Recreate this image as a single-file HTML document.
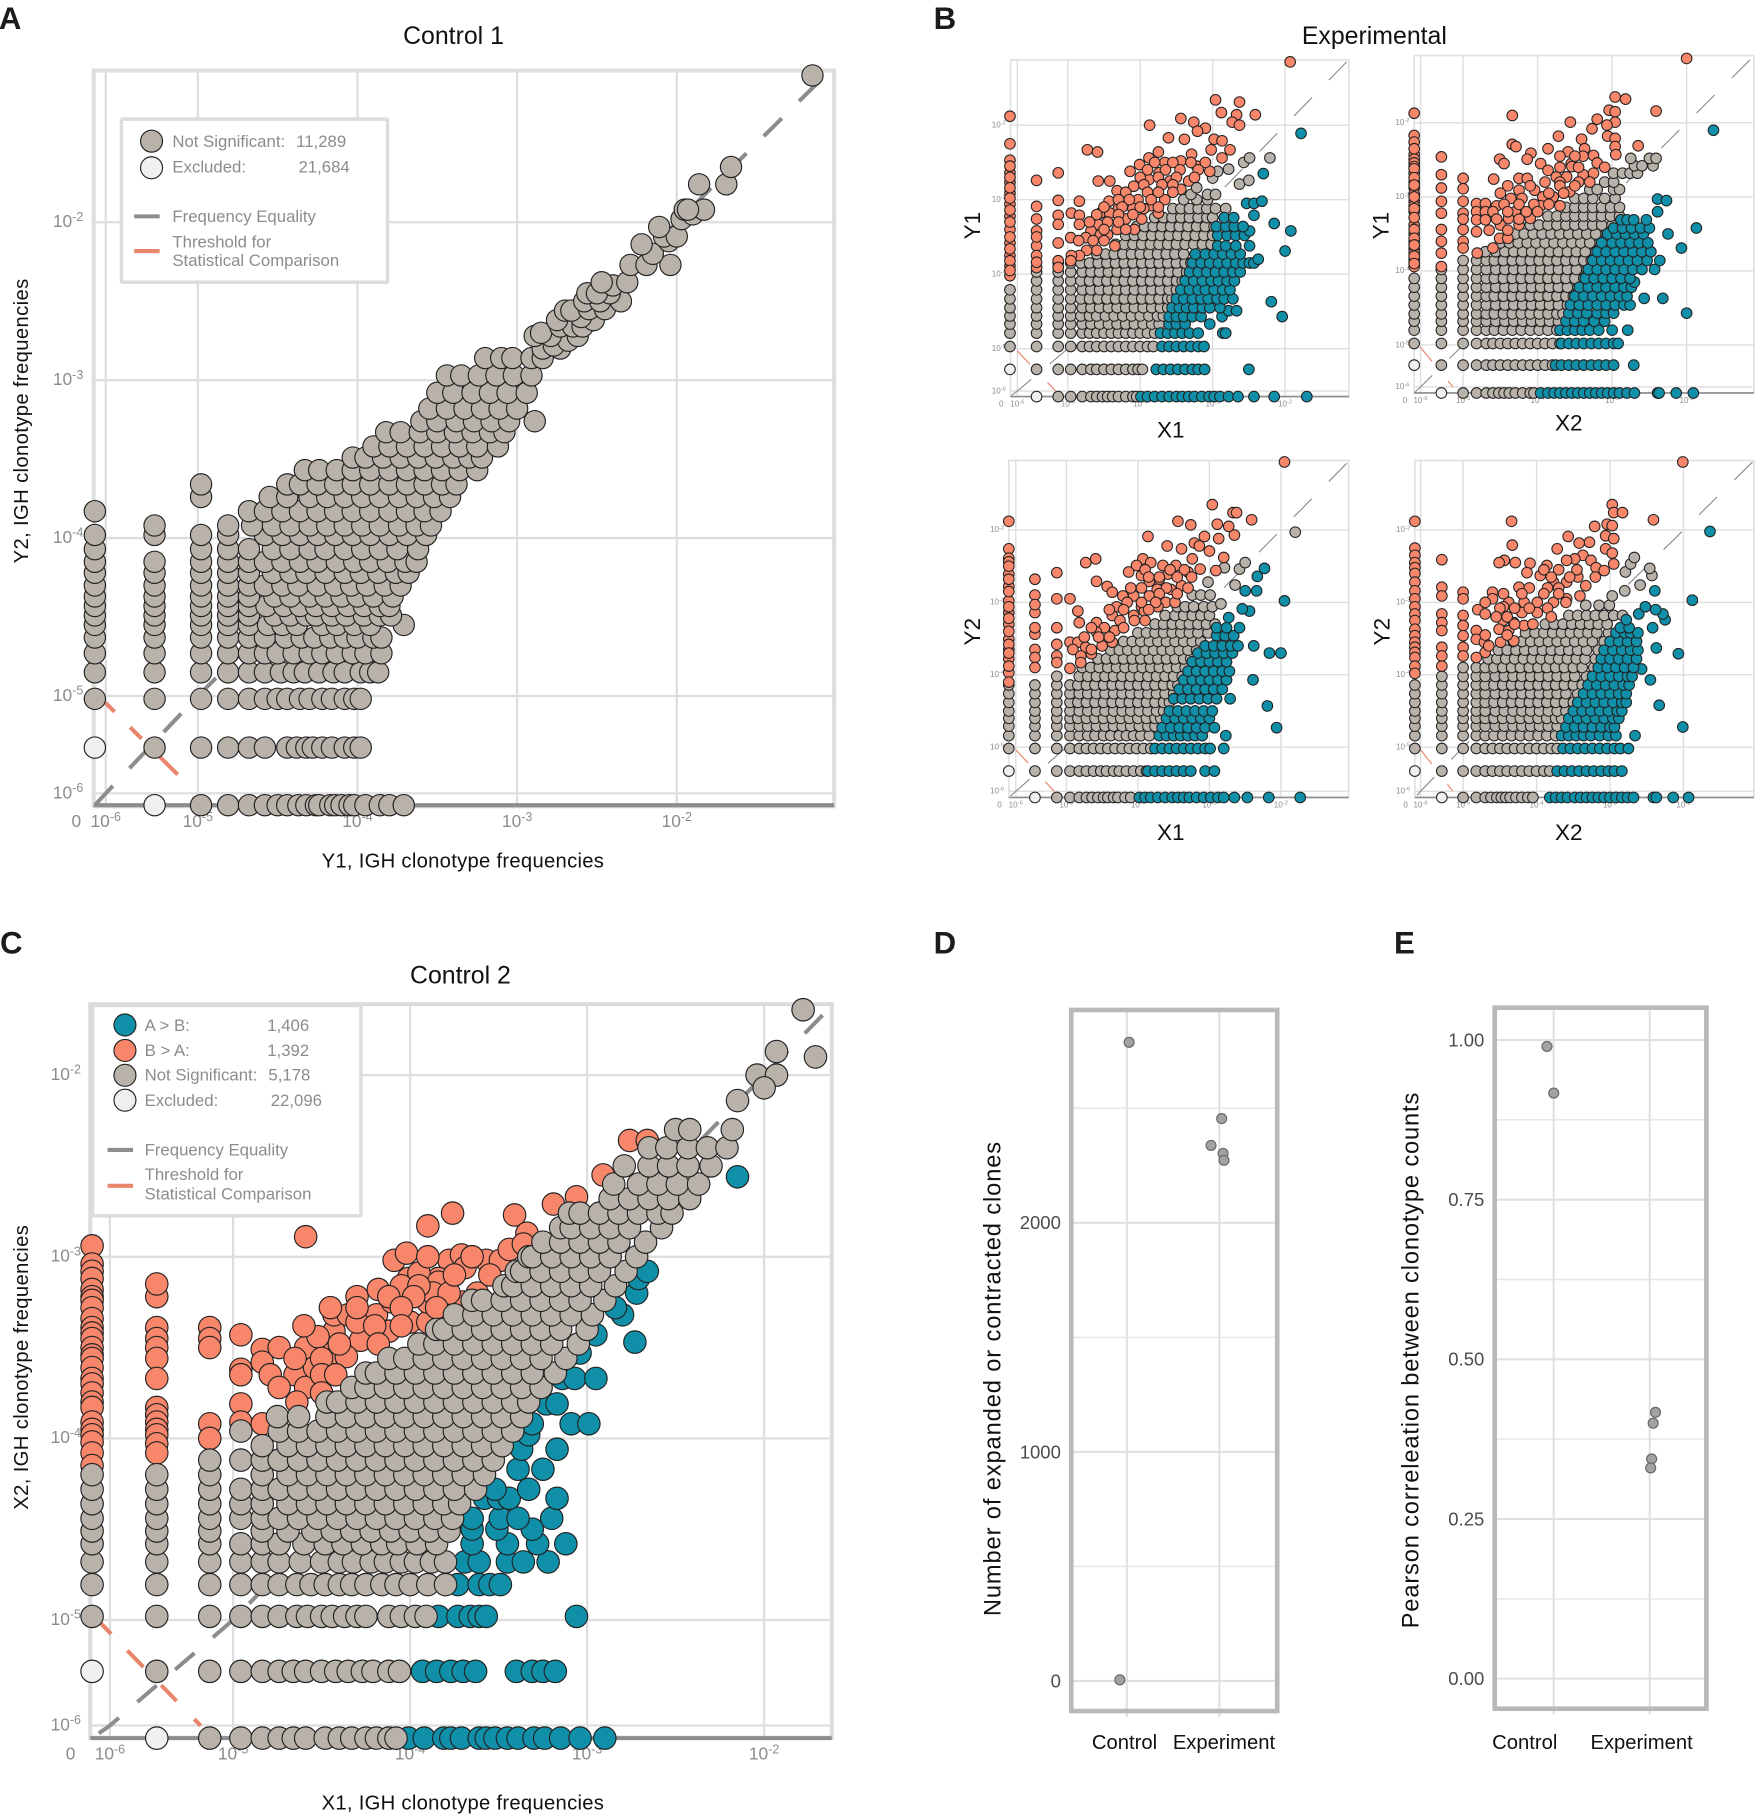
<!DOCTYPE html>
<html lang="en"><head><meta charset="utf-8"><title>Clonotype frequency comparison</title>
<style>html,body{margin:0;padding:0;background:#fff}svg{display:block}text{font-family:"Liberation Sans",sans-serif}</style></head>
<body>
<svg id="fig" xmlns="http://www.w3.org/2000/svg" width="1755" height="1814" viewBox="0 0 1517 1568">
<rect width="1517" height="1568" fill="#fff"/>
<g font-weight="bold" font-size="27" fill="#1c1c1c">
<text x="-1" y="25">A</text>
<text x="807" y="25">B</text>
<text x="0" y="824">C</text>
<text x="807" y="824">D</text>
<text x="1205" y="824">E</text>
</g>
<g font-size="21.5" fill="#111" text-anchor="middle">
<text x="392" y="38">Control 1</text>
<text x="1188" y="38">Experimental</text>
<text x="398" y="850">Control 2</text>
</g>
<g font-size="17.5" fill="#111" text-anchor="middle">
<text x="400" y="750" textLength="244">Y1, IGH clonotype frequencies</text>
<text transform="translate(24,364) rotate(-90)" textLength="246">Y2, IGH clonotype frequencies</text>
<text x="400" y="1564" textLength="244">X1, IGH clonotype frequencies</text>
<text transform="translate(24,1182) rotate(-90)" textLength="246">X2, IGH clonotype frequencies</text>
</g>
<g font-size="19.5" fill="#111" text-anchor="middle">
<text x="1012" y="378">X1</text>
<text x="1356" y="372">X2</text>
<text x="1012" y="726">X1</text>
<text x="1356" y="726">X2</text>
<text transform="translate(847,195) rotate(-90)">Y1</text>
<text transform="translate(1200,195) rotate(-90)">Y1</text>
<text transform="translate(847,546) rotate(-90)">Y2</text>
<text transform="translate(1201,546) rotate(-90)">Y2</text>
</g>
<g id="plots"></g>

<g font-size="14.5" fill="#8c8c8c">
<rect x="105" y="103" width="230" height="141" fill="#fff" stroke="#dcdcdc" stroke-width="3" rx="1"/>
<circle cx="131" cy="122" r="9.5" fill="#b8b2aa" stroke="#222"/>
<circle cx="131" cy="145" r="9.5" fill="#f0f0ee" stroke="#222"/>
<text x="149" y="127">Not Significant:</text><text x="256" y="127">11,289</text>
<text x="149" y="149">Excluded:</text><text x="258" y="149">21,684</text>
<line x1="116" x2="138" y1="187" y2="187" stroke="#8d8d90" stroke-width="3.5"/>
<text x="149" y="192">Frequency Equality</text>
<line x1="116" x2="138" y1="217" y2="217" stroke="#e8856c" stroke-width="3.5"/>
<text x="149" y="214">Threshold for</text>
<text x="149" y="230">Statistical Comparison</text>
</g>
<g font-size="14.5" fill="#8c8c8c">
<rect x="80" y="869" width="232" height="182" fill="#fff" stroke="#dcdcdc" stroke-width="3" rx="1"/>
<circle cx="108" cy="886" r="9.5" fill="#0f8fa8" stroke="#222"/>
<circle cx="108" cy="908" r="9.5" fill="#f8866b" stroke="#222"/>
<circle cx="108" cy="929.5" r="9.5" fill="#b8b2aa" stroke="#222"/>
<circle cx="108" cy="951" r="9.5" fill="#f0f0ee" stroke="#222"/>
<text x="125" y="891">A &gt; B:</text><text x="231" y="891">1,406</text>
<text x="125" y="913">B &gt; A:</text><text x="231" y="913">1,392</text>
<text x="125" y="934">Not Significant:</text><text x="232" y="934">5,178</text>
<text x="125" y="956">Excluded:</text><text x="234" y="956">22,096</text>
<line x1="93" x2="115" y1="994" y2="994" stroke="#8d8d90" stroke-width="3.5"/>
<text x="125" y="999">Frequency Equality</text>
<line x1="93" x2="115" y1="1025" y2="1025" stroke="#e8856c" stroke-width="3.5"/>
<text x="125" y="1020">Threshold for</text>
<text x="125" y="1037">Statistical Comparison</text>
</g>
</svg>
<script>
// Scatter data are log10 frequencies. -7 stands for a frequency of exactly 0.
// Each row is [y, x, x, x, ...]: one y value followed by the x values at that y.
const logTicks=[-6,-5,-4,-3,-2];

const aNotSig=[
[-7,-4.98,-4.81,-4.68,-4.58,-4.5,-4.44,-4.37,-4.32,-4.26,-4.24,-4.17,-4.14,-4.1,-4.05,-4.02,-3.95,-3.86,-3.8,-3.71],
[-5.53,-5.47,-4.98,-4.81,-4.68,-4.58,-4.44,-4.38,-4.32,-4.28,-4.22,-4.16,-4.08,-4.02,-3.98],
[-5.03,-7,-5.47,-4.98,-4.81,-4.68,-4.58,-4.5,-4.44,-4.36,-4.3,-4.22,-4.16,-4.08,-4.02,-3.98],
[-4.85,-7,-5.47,-4.98,-4.81,-4.68,-4.58,-4.48,-4.4,-4.33,-4.24,-4.15,-4.08,-3.98,-3.92,-3.87],
[-4.73,-7,-5.47,-4.98,-4.81,-4.68,-4.58,-4.5,-4.4,-4.3,-4.22,-4.13,-4.03,-3.95,-3.85],
[-4.63,-7,-5.47,-4.98,-4.81,-4.68,-4.58,-4.45,-4.35,-4.27,-4.17,-4.08,-4,-3.9,-3.85],
[-4.55,-7,-5.47,-4.98,-4.81,-4.68,-4.56,-4.47,-4.38,-4.22,-4.13,-4.02,-3.92,-3.71],
[-4.49,-7,-5.47,-4.98,-4.81,-4.68,-4.52,-4.42,-4.32,-4.26,-4.16,-4.07,-3.96,-3.86,-3.79],
[-4.43,-7,-5.47,-4.98,-4.81,-4.68,-4.57,-4.46,-4.36,-4.26,-4.16,-4.06,-3.96,-3.86,-3.8],
[-4.37,-7,-5.47,-4.98,-4.81,-4.68,-4.52,-4.42,-4.3,-4.2,-4.1,-4,-3.9,-3.78],
[-4.3,-7,-5.47,-4.98,-4.81,-4.68,-4.58,-4.47,-4.37,-4.25,-4.14,-4.04,-3.94,-3.83,-3.73],
[-4.22,-7,-5.47,-4.98,-4.81,-4.68,-4.53,-4.42,-4.32,-4.2,-4.08,-3.98,-3.87,-3.76,-3.68],
[-4.15,-7,-5.47,-4.98,-4.81,-4.68,-4.58,-4.47,-4.36,-4.25,-4.13,-4.02,-3.92,-3.81,-3.7,-3.63],
[-4.07,-7,-4.98,-4.81,-4.68,-4.53,-4.42,-4.3,-4.2,-4.08,-3.97,-3.86,-3.75,-3.62],
[-3.98,-7,-5.47,-4.98,-4.81,-4.58,-4.47,-4.36,-4.25,-4.14,-4.03,-3.92,-3.8,-3.69,-3.57],
[-3.92,-5.47,-4.81,-4.66,-4.53,-4.42,-4.3,-4.19,-4.08,-3.97,-3.86,-3.74,-3.63,-3.54],
[-3.83,-7,-4.68,-4.58,-4.47,-4.36,-4.25,-4.14,-4.03,-3.92,-3.8,-3.69,-3.58,-3.48],
[-3.74,-4.98,-4.55,-4.44,-4.3,-4.19,-4.08,-3.97,-3.86,-3.74,-3.63,-3.52,-3.42],
[-3.66,-4.98,-4.44,-4.36,-4.25,-4.14,-4.03,-3.92,-3.8,-3.69,-3.58,-3.47,-3.38],
[-3.57,-4.33,-4.24,-4.13,-4.03,-3.92,-3.8,-3.69,-3.58,-3.47,-3.36,-3.25],
[-3.49,-4.03,-3.95,-3.84,-3.73,-3.62,-3.51,-3.4,-3.3,-3.22],
[-3.42,-3.9,-3.8,-3.69,-3.58,-3.47,-3.36,-3.25,-3.12],
[-3.33,-3.82,-3.73,-3.61,-3.5,-3.39,-3.28,-3.17,-3.08],
[-3.26,-3.6,-3.5,-3.38,-3.27,-3.16,-3.05,-2.89],
[-3.18,-3.55,-3.44,-3.33,-3.22,-3.11,-3],
[-3.08,-3.5,-3.4,-3.28,-3.17,-3.06,-2.94],
[-2.97,-3.44,-3.35,-3.24,-3.13,-3.02,-2.91],
[-2.86,-3.2,-3.1,-3.03,-2.91,-2.84],
[-2.8,-2.84,-2.73],[-2.78,-2.77],[-2.75,-2.68],[-2.72,-2.89,-2.79,-2.62],[-2.7,-2.85],[-2.66,-2.73,-2.65,-2.59],[-2.62,-2.75,-2.52],[-2.6,-2.6],[-2.56,-2.7,-2.66],[-2.55,-2.55,-2.45],
[-2.5,-2.58,-2.48,-2.35],[-2.45,-2.56,-2.42,-2.5],[-2.4,-2.4],[-2.38,-2.47,-2.31],[-2.27,-2.29,-2.19,-2.04],[-2.2,-2.15],
[-2.14,-2.22],[-2.12,-2.05],[-2.09,-2.08,-2],[-2.03,-2.11],[-1.98,-1.97],[-1.95,-1.9],[-1.92,-1.95,-1.83,-1.93],[-1.76,-1.86,-1.69],[-1.65,-1.66],[-1.07,-1.15]];
const aExcluded=[[-7,-5.47],[-5.53,-7]];

const cAgtB=[
[-7,-4.01,-3.92,-3.81,-3.77,-3.71,-3.61,-3.57,-3.52,-3.45,-3.39,-3.3,-3.24,-3.15,-3.04,-2.9],
[-5.487,-3.93,-3.85,-3.77,-3.7,-3.63,-3.4,-3.31,-3.25,-3.18],
[-4.98,-3.84,-3.73,-3.66,-3.61,-3.57,-3.06],
[-4.805,-3.73,-3.61,-3.55,-3.49],
[-4.68,-3.69,-3.61,-3.45,-3.36,-3.22],
[-4.58,-3.65,-3.45,-3.28,-3.12],
[-4.5,-3.65,-3.51,-3.31],[-4.44,-3.65,-3.49,-3.39,-3.2],
[-4.33,-3.58,-3.5,-3.44,-3.17],[-4.28,-3.52,-3.33],[-4.17,-3.39,-3.25],[-4.06,-3.37,-3.17],
[-3.98,-3.33],[-3.92,-3.09,-2.99,-3.31],[-3.81,-3.23,-3.17],[-3.67,-3.14,-3.07,-2.95],
[-3.53,-3.04],[-3.47,-2.73],[-3.43,-2.95],[-3.32,-2.8],[-3.28,-2.84],[-3.2,-2.72],[-3.12,-2.71],[-3.08,-2.66],[-2.56,-2.15]];
const cBgtA=[
[-2.94,-7],[-3.04,-7],[-3.08,-7],[-3.12,-7],[-3.18,-7],[-3.22,-7,-5.62],[-3.24,-7],[-3.28,-7],[-3.34,-7],[-3.39,-7,-5.62,-5.19],[-3.42,-7],[-3.45,-7,-5.19,-5.62],[-3.5,-5.62,-7,-5.19],[-3.54,-7],[-3.56,-7,-5.62],[-3.61,-7],[-3.67,-7,-5.62],[-3.7,-7],[-3.75,-7],[-3.8,-7],[-3.83,-7,-5.62],[-3.87,-5.62],[-3.91,-7,-5.62],[-3.95,-7,-5.62],[-3.98,-7,-5.62],[-4.02,-7],[-4.03,-5.62],[-4.08,-7,-5.62],[-4.15,-7],
[-3.15,-5.62],[-3.92,-5.19],[-4,-5.19],[-3.43,-4.956],[-3.62,-4.956],[-3.65,-4.956],[-3.81,-4.956],[-3.91,-4.956],[-3.51,-4.835],[-3.58,-4.835],[-3.92,-4.835],
[-3.5,-4.74,-4.59],[-3.65,-4.79,-4.65],[-3.72,-4.74,-4.59],[-3.61,-4.54],[-3.46,-4.49,-4.28],[-3.41,-4.43,-4.12],[-3.32,-4.43,-4.35,-4.19],[-3.18,-4.18],[-3.02,-4.09,-3.78,-3.57,-3.49],[-2.98,-4.02],[-3.12,-4.01,-3.84],[-3.09,-3.95],[-3.36,-4,-3.9,-4.3],[-3.14,-3.84],[-2.99,-3.71],[-3.06,-3.69],[-2.96,-3.44],[-2.77,-3.41],[-2.87,-3.34],[-2.93,-3.36],[-2.83,-3.9],[-2.76,-3.76],[-2.71,-3.19],[-2.67,-3.06],[-2.55,-2.91],[-2.36,-2.76,-2.66],[-2.89,-4.59],[-3.55,-4.41,-4.36],[-3.25,-4.1,-3.9,-3.7],[-3.2,-3.87,-3.78,-3.62],[-3.44,-4.52],[-3.8,-4.64],
[-3,-3.9,-3.65],[-3.1,-3.75,-3.55],[-3.16,-4.05,-3.95],[-3.22,-4.3,-4.12,-3.98],[-3.28,-4.45,-4.3,-4.05,-3.85],[-3.38,-4.6,-4.2,-4.05],[-3.48,-4.4,-4.18],[-3.56,-4.65,-4.5],[-3.65,-4.5,-4.42],[-3.75,-4.5]];
const cNotSig=[
[-7,-5.19,-4.956,-4.835,-4.74,-4.66,-4.59,-4.48,-4.4,-4.33,-4.25,-4.19,-4.12,-4.08],
[-5.487,-5.62,-5.19,-4.956,-4.835,-4.74,-4.66,-4.59,-4.5,-4.42,-4.35,-4.27,-4.21,-4.12,-4.06],
[-4.98,-7,-5.62,-5.19,-4.956,-4.835,-4.74,-4.64,-4.58,-4.5,-4.44,-4.37,-4.3,-4.25,-4.12,-4.05,-3.97,-3.91],
[-4.805,-7,-5.62,-5.19,-4.956,-4.835,-4.74,-4.64,-4.56,-4.48,-4.4,-4.33,-4.25,-4.16,-4.08,-4,-3.9,-3.8],
[-4.68,-7,-5.62,-5.19,-4.956,-4.835,-4.74,-4.62,-4.5,-4.4,-4.32,-4.22,-4.14,-4.05,-3.97,-3.88,-3.8],
[-4.58,-7,-5.62,-5.19,-4.956,-4.835,-4.74,-4.6,-4.48,-4.38,-4.27,-4.16,-4.07,-3.96,-3.85],
[-4.51,-7,-5.62,-5.19,-4.835,-4.69,-4.55,-4.44,-4.33,-4.22,-4.11,-4,-3.89,-3.78],
[-4.44,-7,-5.62,-5.19,-4.956,-4.835,-4.74,-4.63,-4.52,-4.41,-4.3,-4.19,-4.08,-3.97,-3.86,-3.76],
[-4.36,-7,-5.62,-5.19,-4.956,-4.835,-4.69,-4.58,-4.47,-4.36,-4.25,-4.14,-4.03,-3.92,-3.81,-3.72],
[-4.28,-7,-5.62,-5.19,-4.956,-4.835,-4.74,-4.63,-4.52,-4.41,-4.3,-4.19,-4.08,-3.97,-3.86,-3.75,-3.63],
[-4.2,-7,-5.62,-5.19,-4.835,-4.69,-4.58,-4.47,-4.36,-4.25,-4.14,-4.03,-3.92,-3.81,-3.7,-3.58],
[-4.12,-5.19,-4.956,-4.835,-4.74,-4.63,-4.52,-4.41,-4.3,-4.19,-4.08,-3.97,-3.86,-3.75,-3.64,-3.53],
[-4.04,-4.835,-4.69,-4.58,-4.47,-4.36,-4.25,-4.14,-4.03,-3.92,-3.81,-3.7,-3.59,-3.48],
[-3.96,-4.956,-4.74,-4.63,-4.52,-4.41,-4.3,-4.19,-4.08,-3.97,-3.86,-3.75,-3.64,-3.53,-3.42],
[-3.88,-4.75,-4.63,-4.47,-4.36,-4.25,-4.14,-4.03,-3.92,-3.81,-3.7,-3.59,-3.48,-3.37],
[-3.8,-4.47,-4.41,-4.3,-4.19,-4.08,-3.97,-3.86,-3.75,-3.64,-3.53,-3.42,-3.33],
[-3.72,-4.33,-4.25,-4.14,-4.03,-3.92,-3.81,-3.7,-3.59,-3.48,-3.37,-3.26],
[-3.64,-4.25,-4.19,-4.08,-3.97,-3.86,-3.75,-3.64,-3.53,-3.42,-3.31,-3.18],
[-3.56,-4.12,-4.03,-3.92,-3.81,-3.7,-3.59,-3.48,-3.37,-3.26,-3.12],
[-3.48,-3.95,-3.86,-3.75,-3.64,-3.53,-3.42,-3.31,-3.2,-3.05],
[-3.4,-3.85,-3.81,-3.7,-3.59,-3.48,-3.37,-3.26,-3.15,-3],
[-3.32,-3.75,-3.64,-3.53,-3.42,-3.31,-3.2,-3.09,-2.97],
[-3.24,-3.65,-3.59,-3.48,-3.37,-3.26,-3.15,-3.04,-2.9],
[-3.16,-3.47,-3.42,-3.31,-3.2,-3.09,-2.98,-2.84],
[-3.08,-3.4,-3.37,-3.26,-3.15,-3.04,-2.93,-2.78],
[-3,-3.33,-3.31,-3.2,-3.09,-2.98,-2.87,-2.72],
[-2.92,-3.25,-3.15,-3.04,-2.93,-2.82,-2.67],
[-2.84,-3.15,-3.09,-2.98,-2.87,-2.76,-2.58],
[-2.76,-3.1,-3.04,-2.93,-2.82,-2.71,-2.6,-2.52],
[-2.68,-2.87,-2.76,-2.65,-2.54,-2.42],
[-2.6,-2.85,-2.71,-2.6,-2.49,-2.37],
[-2.5,-2.79,-2.65,-2.54,-2.43,-2.3],
[-2.4,-2.65,-2.55,-2.43,-2.32,-2.21],
[-2.3,-2.5,-2.42,-2.18],[-2.14,-2.15],[-2,-2.04,-1.93],[-2.07,-2],[-1.87,-1.93],[-1.9,-1.71],[-1.64,-1.78]];
const cExcluded=[[-7,-5.62],[-5.487,-7]];

const b1Gray=[
[-7,-5.19,-4.96,-4.8,-4.68,-4.6,-4.52,-4.45,-4.38,-4.3,-4.2,-4.1,-4.05],
[-5.49,-5.62,-5.19,-4.96,-4.8,-4.68,-4.6,-4.5,-4.4,-4.3,-4.2,-4.1,-4.03,-3.97],
[-4.97,-7,-5.62,-5.19,-4.96,-4.8,-4.7,-4.6,-4.5,-4.4,-4.3,-4.2,-4.1,-4,-3.9,-3.82],
[-4.79,-7,-5.62,-5.19,-4.96,-4.8,-4.7,-4.6,-4.5,-4.4,-4.3,-4.2,-4.1,-4,-3.9,-3.8],
[-4.67,-7,-5.62,-5.19,-4.96,-4.8,-4.68,-4.56,-4.44,-4.32,-4.2,-4.08,-3.96,-3.84,-3.74],
[-4.56,-7,-5.62,-5.19,-4.96,-4.82,-4.7,-4.6,-4.48,-4.36,-4.24,-4.12,-4,-3.88,-3.76,-3.68],
[-4.45,-7,-5.62,-5.19,-4.96,-4.8,-4.68,-4.56,-4.44,-4.32,-4.2,-4.08,-3.96,-3.84,-3.72,-3.62],
[-4.33,-7,-5.62,-5.19,-4.96,-4.82,-4.7,-4.58,-4.46,-4.34,-4.22,-4.1,-3.98,-3.86,-3.74,-3.62,-3.56],
[-4.21,-7,-5.62,-5.19,-4.96,-4.8,-4.68,-4.56,-4.44,-4.32,-4.2,-4.08,-3.96,-3.84,-3.72,-3.6,-3.5],
[-4.09,-5.62,-5.19,-4.96,-4.82,-4.7,-4.58,-4.46,-4.34,-4.22,-4.1,-3.98,-3.86,-3.74,-3.62,-3.5,-3.42],
[-3.97,-5.62,-5.19,-4.96,-4.8,-4.68,-4.56,-4.44,-4.32,-4.2,-4.08,-3.96,-3.84,-3.72,-3.6,-3.48,-3.36],
[-3.85,-5.19,-4.96,-4.82,-4.7,-4.58,-4.46,-4.34,-4.22,-4.1,-3.98,-3.86,-3.74,-3.62,-3.5,-3.38,-3.3],
[-3.73,-4.6,-4.48,-4.36,-4.24,-4.12,-4,-3.88,-3.76,-3.64,-3.52,-3.4,-3.24],
[-3.6,-4.34,-4.22,-4.1,-3.98,-3.86,-3.74,-3.62,-3.5,-3.38,-3.26,-3.14,-3.02],
[-3.48,-4.2,-4.08,-3.96,-3.84,-3.72,-3.6,-3.48,-3.36,-3.24,-3.12,-3],
[-3.36,-4.05,-3.94,-3.82,-3.7,-3.58,-3.46,-3.34,-3.22,-3.1,-2.98],
[-3.24,-3.8,-3.68,-3.56,-3.44,-3.32,-3.2,-3.08,-3],
[-3.12,-3.55,-3.44,-3.32,-3.2,-3.08,-2.96,-2.82],[-3,-3.4,-3.22,-3.07],[-2.93,-3.3,-3.07,-2.96],[-2.84,-3.22],[-2.79,-2.63],[-2.74,-2.5],[-2.71,-3],[-2.62,-2.93],[-2.59,-2.78],[-2.5,-2.57],[-2.44,-2.49,-2.21]];
const b1Teal=[
[-7,-3.99,-3.9,-3.8,-3.7,-3.6,-3.5,-3.42,-3.33,-3.25,-3.15,-3.05,-2.98,-2.9,-2.78,-2.65,-2.43,-2.15,-1.7],
[-5.49,-3.78,-3.68,-3.58,-3.48,-3.38,-3.28,-3.2,-3.11,-2.5],
[-4.97,-3.7,-3.6,-3.5,-3.4,-3.3,-3.2,-3.12],
[-4.79,-3.72,-3.62,-3.52,-3.42,-3.32,-3.2,-2.86,-2.82],
[-4.67,-3.6,-3.5,-3.38,-3.04],[-4.57,-3.6,-3.5,-3.4,-3.28,-3.16,-2.87,-2.04],[-4.49,-2.78,-2.67],
[-4.45,-3.56,-3.46,-3.36,-3.26,-3.14,-3.04,-2.9],[-4.37,-2.19],
[-4.33,-3.5,-3.4,-3.28,-3.16,-3.06,-2.94,-2.84,-2.72],
[-4.21,-3.44,-3.32,-3.2,-3.1,-2.98,-2.86,-2.76],
[-4.09,-3.38,-3.26,-3.14,-3.02,-2.92,-2.8,-2.7],
[-3.97,-3.32,-3.2,-3.08,-2.96,-2.84,-2.72,-2.62],
[-3.85,-3.28,-3.16,-3.04,-2.92,-2.8,-2.68,-2.58,-2.49,-2.43],[-3.8,-2.37],
[-3.73,-3.24,-3.1,-2.98,-2.86,-2.74,-2.62],[-3.69,-2],
[-3.62,-2.93,-2.82,-2.68,-2.49],[-3.48,-2.93,-2.8,-2.68,-2.56],[-3.42,-1.92,-2.49],
[-3.36,-2.95,-2.82,-2.7,-2.58],[-3.32,-2.15],[-3.24,-2.84,-2.71],[-3.21,-2.43],[-3.05,-2.53,-2.43],[-3.02,-2.32],[-2.65,-2.3],[-2.11,-1.78]];
const b1Orange=[
[-1.15,-1.93],[-1.66,-2.96],[-1.69,-2.63],[-1.83,-2.88],[-1.86,-2.67,-2.41],[-1.88,-7],[-1.91,-3.44],[-1.96,-3.26,-2.73],[-2,-3.87,-2.63],[-2.04,-3.1],[-2.08,-3.21],[-2.17,-3.61],[-2.19,-3.39,-2.98],[-2.21,-2.87],[-2.25,-7],[-2.33,-4.73,-3.02,-2.76],[-2.36,-4.59,-3.75],[-2.39,-3.29],[-2.44,-3.88,-2.87],[-2.47,-7],[-2.48,-3.44],[-2.5,-3.66],[-2.53,-4.01],[-2.55,-3.22],[-2.62,-4.14,-3.04],[-2.64,-7,-5.19,-3.74],[-2.73,-3.88],[-2.74,-5.62],[-2.75,-4.58,-4.42,-3.59,-3.33],[-2.77,-7],[-2.82,-4.09],[-2.86,-3.44],[-2.88,-4.32],[-2.91,-7],[-2.95,-4.21],[-3,-3.66,-4.03],[-3.01,-5.19],[-3.02,-4.84,-4.43],[-3.06,-7],[-3.08,-3.85],[-3.09,-5.62],
[-3.12,-4.3,-4.1,-3.95],[-3.18,-4.95,-4.55,-4.42,-3.75],[-3.21,-5.19,-4.84],[-3.22,-7],[-3.26,-5.62,-4.2,-3.98],[-3.33,-5.19,-4.84,-4.58],[-3.4,-7,-4.32,-4.08],[-3.42,-5.62,-4.68],[-3.47,-4.55,-4.45],[-3.51,-4.96,-4.75],[-3.58,-7,-5.19],[-3.62,-5.62,-4.35],[-3.68,-4.6,-4.74],[-3.75,-7,-5.62,-4.84,-4.95],[-3.82,-5.19,-4.96],[-3.89,-7],[-3.91,-5.62,-5.19],[-4.02,-7],
[-2.5,-3.8,-3.55,-3.3,-3.1],[-2.6,-3.9,-3.65,-3.45,-3.2],[-2.7,-4,-3.75,-3.5,-3.25],[-2.8,-3.95,-3.7,-3.55],[-2.9,-4.2,-3.9,-3.75,-3.55],[-3,-4.3,-4.15,-3.85],[-3.1,-4.5,-4.25,-4,-3.75],[-3.2,-4.6,-4.3,-4.1],[-3.3,-4.7,-4.45,-4.3],[-3.4,-4.5,-4.2],[-3.55,-4.65,-4.5,-4.85],
[-2.55,-7],[-2.7,-7],[-2.84,-7],[-2.98,-7],[-3.14,-7],[-3.3,-7],[-3.5,-7],[-3.66,-7],[-3.82,-7],[-3.95,-7],[-3.5,-5.62],[-3.84,-5.62]];

const b2Gray=[
[-7,-5,-4.82,-4.69,-4.6,-4.52,-4.45,-4.38,-4.3,-4.2,-4.1,-4.05],
[-5.48,-5.51,-5,-4.82,-4.69,-4.6,-4.5,-4.4,-4.3,-4.2,-4.1,-4,-3.9,-3.8],
[-4.98,-7,-5.51,-5,-4.82,-4.69,-4.6,-4.5,-4.4,-4.3,-4.2,-4.1,-4,-3.9,-3.8,-3.7],
[-4.8,-7,-5.51,-5,-4.82,-4.69,-4.58,-4.46,-4.34,-4.22,-4.1,-3.98,-3.86,-3.74],
[-4.68,-7,-5.51,-5,-4.82,-4.69,-4.56,-4.44,-4.32,-4.2,-4.08,-3.96,-3.84,-3.72],
[-4.58,-7,-5.51,-5,-4.82,-4.69,-4.58,-4.46,-4.34,-4.22,-4.1,-3.98,-3.86,-3.74,-3.66],
[-4.46,-7,-5.51,-5,-4.82,-4.69,-4.56,-4.44,-4.32,-4.2,-4.08,-3.96,-3.84,-3.72,-3.6],
[-4.34,-7,-5.51,-5,-4.82,-4.69,-4.58,-4.46,-4.34,-4.22,-4.1,-3.98,-3.86,-3.74,-3.62,-3.52],
[-4.22,-7,-5.51,-5,-4.82,-4.69,-4.56,-4.44,-4.32,-4.2,-4.08,-3.96,-3.84,-3.72,-3.6,-3.46],
[-4.1,-7,-5.51,-5,-4.82,-4.69,-4.58,-4.46,-4.34,-4.22,-4.1,-3.98,-3.86,-3.74,-3.62,-3.5,-3.38],
[-3.98,-5.51,-5,-4.82,-4.69,-4.56,-4.44,-4.32,-4.2,-4.08,-3.96,-3.84,-3.72,-3.6,-3.48,-3.34],
[-3.86,-5,-4.82,-4.69,-4.58,-4.46,-4.34,-4.22,-4.1,-3.98,-3.86,-3.74,-3.62,-3.5,-3.38,-3.28],
[-3.74,-4.7,-4.56,-4.44,-4.32,-4.2,-4.08,-3.96,-3.84,-3.72,-3.6,-3.48,-3.36,-3.22],
[-3.62,-4.5,-4.38,-4.26,-4.14,-4.02,-3.9,-3.78,-3.66,-3.54,-3.42,-3.3,-3.16],
[-3.5,-4.3,-4.18,-4.06,-3.94,-3.82,-3.7,-3.58,-3.46,-3.34,-3.22,-3.08],
[-3.38,-4.1,-3.98,-3.86,-3.74,-3.62,-3.5,-3.38,-3.26,-3.14,-3],
[-3.26,-3.86,-3.74,-3.62,-3.5,-3.38,-3.26,-3.14,-3.02,-2.9],
[-3.14,-3.62,-3.5,-3.38,-3.26,-3.14,-3.02,-2.9],
[-3.02,-3.5,-3.38,-3.26,-3.1,-2.96],[-2.9,-3.3,-3.2,-2.98,-2.9],[-2.8,-3.1,-2.98],[-2.68,-2.98,-2.86,-2.76,-2.66],[-2.58,-2.7,-2.6,-2.45],[-2.48,-2.75,-2.5,-2.41]];
const b2Teal=[
[-7,-3.96,-3.86,-3.78,-3.7,-3.62,-3.54,-3.46,-3.38,-3.3,-3.22,-3.14,-3.06,-2.98,-2.9,-2.8,-2.7,-2.39,-2.37,-2.14,-1.91],
[-5.48,-3.76,-3.68,-3.58,-3.48,-3.38,-3.28,-3.18,-3.08,-2.98,-2.71],
[-4.98,-3.68,-3.58,-3.48,-3.38,-3.28,-3.18,-3.08,-2.98,-2.92],
[-4.8,-3.7,-3.6,-3.5,-3.4,-3.3,-3.18,-3,-2.79],
[-4.68,-3.62,-3.5,-3.38,-3.24,-3.1],[-4.57,-3.58,-3.46,-3.34,-3.2,-3.08,-2.98,-2],
[-4.46,-3.56,-3.44,-3.32,-3.2,-3.08,-2.96,-2.84,-2.76],[-4.37,-2.57,-2.32],
[-4.34,-3.5,-3.38,-3.26,-3.14,-3.02,-2.9,-2.8],
[-4.22,-3.44,-3.32,-3.2,-3.08,-2.96,-2.84,-2.74],[-4.15,-2.7],
[-4.1,-3.36,-3.24,-3.12,-3,-2.88,-2.76],
[-3.98,-3.32,-3.2,-3.08,-2.96,-2.84,-2.72,-2.6,-2.43],
[-3.86,-3.26,-3.14,-3.02,-2.9,-2.78,-2.66,-2.53,-2.36],
[-3.74,-3.2,-3.08,-2.96,-2.84,-2.72,-2.6,-2.48],[-3.69,-2.07],
[-3.62,-3.14,-3,-2.88,-2.76,-2.64,-2.52],[-3.5,-3.06,-2.94,-2.82,-2.7,-2.58,-2.25],[-3.42,-2.98,-2.86,-2.74,-2.62,-2.5,-1.87],
[-3.31,-2.88,-2.8,-2.71,-2.54],[-3.2,-2.39],[-3.03,-2.39],[-3.05,-2.27],[-2.1,-1.64]];
const b2Orange=[
[-1.13,-2],[-1.65,-2.96],[-1.68,-2.82],[-1.83,-3.04],[-1.84,-2.41],[-1.85,-2.96],[-1.87,-7],[-1.9,-4.34],[-1.95,-3.2],[-1.99,-3.56,-2.96],[-2.03,-3.07],[-2.08,-3.27],[-2.17,-7],[-2.18,-3.72,-3.06],[-2.21,-2.96],[-2.22,-3.41],[-2.26,-7],[-2.29,-4.34],[-2.31,-2.65],[-2.32,-2.96,-4.29],[-2.35,-3.86,-3.37],[-2.39,-3.59],[-2.41,-4.09],[-2.43,-7,-2.95],[-2.44,-3.25],[-2.45,-3.39],[-2.46,-5.51],[-2.49,-7,-4.14,-4.51],[-2.54,-7,-3.2],[-2.55,-4.45,-3.96,-3.55],[-2.59,-7,-3.54],[-2.64,-3.86],[-2.68,-7,-3.25],[-2.7,-5.51,-3.39],[-2.73,-3.75,-3.61],[-2.75,-5,-4.25,-4.14],[-2.76,-4.59],[-2.8,-7],[-2.88,-5.51,-7],[-2.89,-5],[-2.91,-4.04,-4.25],[-2.93,-3.57],[-2.96,-7],[-3,-3.93,-3.79],[-3.02,-4.36,-4.21],[-3.06,-7,-5.51,-5],[-3.09,-4.82,-4.7],[-3.12,-7,-4.55,-3.96,-3.7],[-3.2,-7,-4.82,-4.7,-4.3],[-3.22,-5.51,-5],[-3.29,-4.39,-4.1],[-3.31,-4.82,-4.7],[-3.38,-7,-4.5,-4.25],[-3.44,-5.51,-5],[-3.47,-4.82],[-3.5,-7],[-3.56,-4.51,-4.4],[-3.6,-5.51,-5,-7],[-3.69,-5,-4.6],[-3.7,-7],[-3.76,-5.51,-4.81,-7],[-3.85,-7],[-3.94,-5.51,-7],
[-2.45,-3.7,-3.5],[-2.6,-3.7,-3.45,-3.1],[-2.8,-3.9,-3.7,-3.45,-3.3],[-2.85,-4.4,-4.1,-3.7,-3.5],[-2.95,-4.5,-3.85,-3.65],[-3.1,-4.45,-4.25,-4.05,-3.85],[-3.2,-4.6,-4.4,-4.15,-4],[-3.3,-4.55,-4.25,-5],[-3.45,-4.65,-4.4],
[-2.35,-7],[-2.62,-7],[-2.74,-7],[-2.84,-7],[-3,-7],[-3.16,-7],[-3.28,-7],[-3.44,-7],[-3.56,-7],[-3.65,-7],[-3.8,-7],[-3.9,-7]];

const b3Gray=[
[-7,-5.19,-4.95,-4.82,-4.72,-4.64,-4.56,-4.48,-4.42,-4.34,-4.28,-4.18,-4.1],
[-5.54,-5.62,-5.19,-4.95,-4.82,-4.72,-4.62,-4.52,-4.44,-4.34,-4.26,-4.16,-4.06,-3.96,-3.88],
[-5.03,-7,-5.62,-5.19,-4.95,-4.82,-4.72,-4.62,-4.52,-4.42,-4.32,-4.22,-4.12,-4.02,-3.92,-3.82],
[-4.84,-7,-5.62,-5.19,-4.95,-4.82,-4.7,-4.6,-4.48,-4.38,-4.26,-4.16,-4.06,-3.96,-3.84],
[-4.71,-7,-5.62,-5.19,-4.95,-4.82,-4.7,-4.58,-4.46,-4.34,-4.22,-4.1,-3.98,-3.86,-3.76],
[-4.6,-7,-5.62,-5.19,-4.95,-4.84,-4.72,-4.6,-4.48,-4.36,-4.24,-4.12,-4,-3.88,-3.76,-3.68],
[-4.5,-7,-5.62,-5.19,-4.95,-4.82,-4.7,-4.58,-4.46,-4.34,-4.22,-4.1,-3.98,-3.86,-3.74,-3.64],
[-4.38,-7,-5.62,-5.19,-4.95,-4.84,-4.72,-4.6,-4.48,-4.36,-4.24,-4.12,-4,-3.88,-3.76,-3.64,-3.56],
[-4.26,-7,-5.62,-5.19,-4.95,-4.82,-4.7,-4.58,-4.46,-4.34,-4.22,-4.1,-3.98,-3.86,-3.74,-3.62,-3.5],
[-4.14,-7,-5.62,-5.19,-4.95,-4.84,-4.72,-4.6,-4.48,-4.36,-4.24,-4.12,-4,-3.88,-3.76,-3.64,-3.52,-3.44],
[-4.02,-4.82,-5.19,-4.7,-4.58,-4.46,-4.34,-4.22,-4.1,-3.98,-3.86,-3.74,-3.62,-3.5,-3.38],
[-3.9,-4.78,-4.66,-4.54,-4.42,-4.3,-4.18,-4.06,-3.94,-3.82,-3.7,-3.58,-3.46,-3.34],
[-3.78,-4.56,-4.44,-4.32,-4.2,-4.08,-3.96,-3.84,-3.72,-3.6,-3.48,-3.36,-3.26],
[-3.66,-4.38,-4.26,-4.14,-4.02,-3.9,-3.78,-3.66,-3.54,-3.42,-3.3,-3.18],
[-3.54,-4.2,-4.08,-3.96,-3.84,-3.72,-3.6,-3.48,-3.36,-3.24,-3.12],
[-3.42,-4,-3.88,-3.76,-3.64,-3.52,-3.4,-3.28,-3.16,-3.02],
[-3.3,-3.76,-3.64,-3.52,-3.4,-3.28,-3.16,-3.04,-2.92],
[-3.18,-3.62,-3.48,-3.36,-3.24,-3.12,-3],[-3.06,-3.45,-3.34,-3.22,-3.08,-2.96],[-3.02,-2.84],[-2.9,-3.24,-3.12,-2.99],[-2.76,-2.64],[-2.72,-3.02],[-2.54,-2.58],[-2.52,-2.79],[-2.45,-2.5],[-2.03,-1.8]];
const b3Teal=[
[-7,-3.98,-3.9,-3.82,-3.72,-3.62,-3.52,-3.44,-3.36,-3.28,-3.18,-3.08,-2.98,-2.88,-2.8,-2.65,-2.47,-2.17,-1.73],
[-5.54,-3.86,-3.76,-3.66,-3.56,-3.46,-3.36,-3.26,-3.06,-2.93],
[-5.03,-3.76,-3.66,-3.56,-3.46,-3.36,-3.26,-3.16,-3.06,-2.99,-2.8],
[-4.84,-3.7,-3.6,-3.5,-3.4,-3.3,-3.2,-3.1,-2.77],
[-4.73,-3.66,-3.54,-3.42,-3.3,-3.18,-3.06,-2.93,-2.06],
[-4.6,-3.6,-3.48,-3.36,-3.24,-3.12,-3],[-4.5,-3.56,-3.44,-3.32,-3.2,-3.08,-2.96],[-4.43,-2.19],
[-4.33,-3.5,-3.38,-3.26,-3.14,-3.02,-2.9,-2.71],[-4.2,-3.42,-3.3,-3.18,-3.06,-2.94,-2.82],[-4.07,-3.36,-3.24,-3.12,-3,-2.88,-2.76,-2.39],
[-3.95,-3.3,-3.18,-3.06,-2.94,-2.82,-2.72],[-3.82,-3.24,-3.12,-3,-2.88,-2.76],[-3.7,-3.16,-3.04,-2.92,-2.8,-2.68,-2,-2.16],[-3.6,-3.06,-2.94,-2.82,-2.7,-2.6,-2.38],[-3.46,-2.9,-2.78,-2.66],[-3.35,-2.9,-2.76,-2.58],[-3.21,-2.73],[-3.12,-2.44],[-3.09,-2.54],[-2.98,-1.95],[-2.84,-2.5,-2.34],[-2.64,-2.33],[-2.53,-2.23]];
const b3Orange=[
[-1.06,-1.95],[-1.65,-2.96],[-1.76,-2.67,-2.62],[-1.86,-2.41],[-1.88,-7,-3.44],[-1.92,-2.89],[-1.93,-3.26],[-1.95,-2.73],[-2.07,-2.65],[-2.09,-3.86,-3.07],[-2.12,-2.87],[-2.18,-3.21],[-2.22,-3.59,-3.14],[-2.26,-7,-3.39],[-2.29,-3],[-2.39,-7],[-2.38,-2.8],[-2.4,-4.59,-3.93,-3.24],[-2.45,-4.73,-3.82],[-2.49,-4.02,-3.65,-3.47],[-2.54,-3.13],[-2.56,-2.91],[-2.58,-4.13,-3.3],[-2.59,-5.19],[-2.61,-7,-3.58],[-2.63,-3.95],[-2.68,-5.62,-3.7],[-2.71,-4.58,-3.84],[-2.77,-3.39],[-2.78,-4.43,-7],[-2.82,-3.54,-3.73],[-2.86,-4.36],[-2.9,-5.62],[-2.91,-4.21,-4.06,-3.84],[-2.95,-4.95,-5.19],[-2.98,-7],[-3,-3.61,-3.48],[-3.06,-4.3,-3.95,-3.72],[-3.12,-4.84,-3.91],[-3.14,-5.62,-7],[-3.18,-4.06,-4.36],[-3.28,-4.82,-4.58],[-3.3,-7],[-3.35,-4.47,-5.19],[-3.39,-4.32],[-3.41,-4.58],[-3.44,-5.62],[-3.51,-7],[-3.55,-4.95,-4.84,-4.36],[-3.58,-5.19],[-3.6,-4.5],[-3.62,-4.73],[-3.65,-7,-5.62,-4.91],[-3.71,-4.65],[-3.74,-4.8,-5.19],[-3.76,-5.62],[-3.78,-7],[-3.83,-4.8,-5.19],[-3.9,-5.62],[-3.91,-4.95],[-3.97,-7],[-4.1,-7],
[-2.55,-3.9,-3.55,-3.35],[-2.65,-3.85,-3.7,-3.45,-3.25],[-2.8,-4.1,-3.95,-3.6,-3.3],[-2.88,-3.7,-3.45],[-3,-4.15,-3.95,-3.75],[-3.1,-4.4,-4.2,-3.85],[-3.25,-4.25,-4.05,-3.9],[-3.35,-4.65,-4.2],[-3.48,-4.75,-4.55,-4.4],[-3.65,-4.65],
[-2.44,-7],[-2.5,-7],[-2.68,-7],[-2.85,-7],[-3.06,-7],[-3.22,-7],[-3.4,-7],[-3.58,-7],[-3.7,-7],[-3.88,-7],[-3.03,-5.62],[-3.35,-5.62]];

const b4Gray=[
[-7,-5,-4.82,-4.7,-4.62,-4.54,-4.48,-4.42,-4.36,-4.28,-4.2,-4.12,-4.05],
[-5.54,-5.5,-5,-4.82,-4.7,-4.6,-4.5,-4.4,-4.3,-4.2,-4.1,-4,-3.9,-3.82],
[-5.03,-7,-5.5,-5,-4.82,-4.7,-4.6,-4.5,-4.4,-4.3,-4.2,-4.1,-4,-3.9,-3.8,-3.72],
[-4.84,-7,-5.5,-5,-4.82,-4.7,-4.58,-4.46,-4.34,-4.22,-4.1,-3.98,-3.86,-3.74],
[-4.71,-7,-5.5,-5,-4.82,-4.7,-4.56,-4.44,-4.32,-4.2,-4.08,-3.96,-3.84,-3.72],
[-4.6,-7,-5.5,-5,-4.82,-4.7,-4.58,-4.46,-4.34,-4.22,-4.1,-3.98,-3.86,-3.74,-3.66],
[-4.5,-7,-5.5,-5,-4.82,-4.7,-4.56,-4.44,-4.32,-4.2,-4.08,-3.96,-3.84,-3.72,-3.6],
[-4.38,-7,-5.5,-5,-4.82,-4.7,-4.58,-4.46,-4.34,-4.22,-4.1,-3.98,-3.86,-3.74,-3.62,-3.5],
[-4.26,-7,-5.5,-5,-4.82,-4.7,-4.56,-4.44,-4.32,-4.2,-4.08,-3.96,-3.84,-3.72,-3.6,-3.44],
[-4.14,-7,-5.5,-5,-4.82,-4.7,-4.58,-4.46,-4.34,-4.22,-4.1,-3.98,-3.86,-3.74,-3.62,-3.5,-3.38],
[-4.02,-5.5,-5,-4.82,-4.7,-4.56,-4.44,-4.32,-4.2,-4.08,-3.96,-3.84,-3.72,-3.6,-3.48,-3.32],
[-3.9,-5,-4.82,-4.7,-4.58,-4.46,-4.34,-4.22,-4.1,-3.98,-3.86,-3.74,-3.62,-3.5,-3.38,-3.22],
[-3.78,-4.66,-4.54,-4.42,-4.3,-4.18,-4.06,-3.94,-3.82,-3.7,-3.58,-3.46,-3.34,-3.2],
[-3.66,-4.52,-4.4,-4.28,-4.16,-4.04,-3.92,-3.8,-3.68,-3.56,-3.44,-3.32,-3.16],
[-3.54,-4.32,-4.2,-4.08,-3.96,-3.84,-3.72,-3.6,-3.48,-3.36,-3.24,-3.08],
[-3.42,-4.15,-4.02,-3.9,-3.78,-3.66,-3.54,-3.42,-3.3,-3.18,-3.02],
[-3.3,-3.88,-3.76,-3.64,-3.52,-3.4,-3.28,-3.16,-3.04],
[-3.18,-3.56,-3.44,-3.32,-3.2,-3.08,-2.95,-2.83],[-3.04,-3.33,-3.15,-3.01],[-2.91,-2.97],[-2.84,-2.8],[-2.76,-2.59],[-2.63,-2.43],[-2.58,-2.79],[-2.53,-2.46],[-2.47,-2.72],[-2.38,-2.67]];
const b4Teal=[
[-7,-3.82,-3.74,-3.66,-3.58,-3.48,-3.4,-3.32,-3.24,-3.16,-3.08,-3,-2.92,-2.84,-2.76,-2.68,-2.41,-2.37,-2.14,-1.93],
[-5.54,-3.72,-3.62,-3.52,-3.42,-3.32,-3.22,-3.12,-3.02,-2.94,-2.84],
[-5.03,-3.64,-3.54,-3.44,-3.34,-3.24,-3.14,-3.04,-2.94,-2.86,-2.75],
[-4.84,-3.66,-3.56,-3.46,-3.36,-3.26,-3.14,-3.02,-2.92,-2.66],
[-4.72,-3.6,-3.48,-3.36,-3.24,-3.12,-3,-2.94,-2.01],
[-4.6,-3.56,-3.44,-3.32,-3.2,-3.08,-2.96,-2.88],[-4.5,-3.5,-3.38,-3.26,-3.14,-3.02,-2.9,-2.84],[-4.42,-2.33],
[-4.38,-3.44,-3.32,-3.2,-3.08,-2.96,-2.84,-2.78],[-4.26,-3.36,-3.24,-3.12,-3,-2.88,-2.78],[-4.14,-3.3,-3.18,-3.06,-2.94,-2.82,-2.74],
[-4.07,-2.45],[-4.02,-3.24,-3.12,-3,-2.88,-2.76,-2.7],[-3.92,-2.57],[-3.9,-3.16,-3.04,-2.92,-2.8,-2.68],[-3.78,-3.12,-3,-2.88,-2.76,-2.64],[-3.71,-2.07],
[-3.66,-3.08,-2.96,-2.84,-2.72,-2.62],[-3.63,-2.37],[-3.54,-3,-2.88,-2.76,-2.64],[-3.42,-2.92,-2.8,-2.72,-2.62],[-3.35,-2.42,-2.86,-2.74],[-3.24,-2.25,-2.78],[-3.16,-2.61,-2.28],[-3.1,-2.38],[-3.06,-2.52],[-2.97,-1.88],[-2.84,-2.39],[-2.02,-1.64]];
const b4Orange=[
[-1.06,-2.01],[-1.65,-2.97],[-1.76,-2.95,-2.83],[-1.86,-2.41],[-1.88,-7,-4.34],[-1.92,-3.04],[-1.94,-2.97],[-1.95,-3.21],[-2.08,-3.06],[-2.09,-3.57],[-2.12,-2.95],[-2.17,-3.28],[-2.18,-3.42],[-2.21,-4.33],[-2.25,-7],[-2.26,-3.72,-3.06],[-2.32,-2.97],[-2.35,-7,-3.37],[-2.4,-3.48],[-2.41,-5.5],[-2.42,-4.44,-3.59,-3.26],[-2.45,-4.51,-7,-4.29],[-2.46,-4.09],[-2.47,-2.95],[-2.49,-3.86],[-2.52,-3.19,-7],[-2.56,-3.08],[-2.59,-4.13],[-2.6,-7],[-2.63,-3.95],[-2.65,-3.44],[-2.72,-3.77,-3.59,-7],[-2.77,-3.33],[-2.79,-4.24,-5.5],[-2.84,-7],[-2.86,-4.6,-5],[-2.91,-5.5,-3.41],[-2.95,-3.59,-5,-4.6,-7],[-3,-4.38,-4.17,-3.99,-3.77],[-3.06,-7,-4.45],[-3.1,-4.8],[-3.14,-4.2,-3.99],[-3.16,-4.7,-5.5,-7],[-3.18,-5],[-3.25,-4.46,-7],[-3.28,-4.31,-5.5],[-3.32,-4.17,-5],[-3.37,-4.51,-7],[-3.39,-5.5,-4.82,-4.38],[-3.46,-5,-7],[-3.51,-4.82],[-3.53,-4.31],[-3.55,-4.71,-4.49,-7],[-3.62,-5.5,-5,-7],[-3.69,-4.7,-7],[-3.74,-5,-5.5],[-3.76,-4.82,-7],[-3.88,-5.5,-7],[-3.98,-7],
[-2.55,-3.9,-3.7,-3.45],[-2.65,-3.8,-3.55,-3.2],[-2.8,-4.1,-3.85,-3.7],[-2.88,-4.45,-4.2,-3.9,-3.7],[-3,-4.7,-3.6],[-3.08,-4.5,-4.3,-4.1,-3.85],[-3.2,-4.55,-4.4,-3.8],[-3.3,-4.3,-4.05],[-3.45,-4.7,-4.4],[-3.6,-4.65]];

const equalityValues=[-7,-6,-5,-1.1];
const thresholdValuesAX=[-6.02,-5.12];
const thresholdValuesAY=[-5.07,-5.9];
const thresholdValuesCX=[-6.52,-5.23];
const thresholdValuesCY=[-5.03,-6.35];
const thresholdValuesBX=[-6.03,-5.24];
const thresholdValuesBY=[-5.05,-6];

const dCategories=["Control","Experiment"];
const dPositions=[1.025,0.925,2.025,1.91,2.04,2.05];
const dValues=[2788,5,2455,2338,2303,2273];
const dMajorTicks=[0,1000,2000];
const dMinorTicks=[500,1500,2500];
const eCategories=["Control","Experiment"];
const ePositions=[0.93,1,2.06,2.036,2.02,2.01];
const eValues=[0.99,0.917,0.417,0.4,0.344,0.33];
const eMajorTicks=[0,0.25,0.5,0.75,1];
const eMinorTicks=[0.125,0.375,0.625,0.875];

const NS="http://www.w3.org/2000/svg";
const plots=document.getElementById('plots');
const TEAL="#0f8fa8",ORANGE="#f8866b",GRAY="#b8b2aa",EXCL="#f0f0ee";

function svgEl(parent,tag,attrs){
  const el=document.createElementNS(NS,tag);
  for(const k in attrs)el.setAttribute(k,attrs[k]);
  parent.appendChild(el);
  return el;
}
function logAxis(zeroPos,e6Pos,e5Pos,decade){
  return function(v){
    if(v<=-7)return zeroPos;
    if(v<-6)return zeroPos+(e6Pos-zeroPos)*(v+7);
    if(v<-5)return e6Pos+(e5Pos-e6Pos)*(v+6);
    return e5Pos+decade*(v+5);
  };
}
function powerLabel(parent,x,y,exp,size,anchor,name){
  const t=svgEl(parent,'text',{x:x,y:y,'font-size':size,'text-anchor':anchor,fill:'#8c8c8c'});
  
  
  const a=svgEl(t,'tspan',{});
  a.textContent='10';
  const b=svgEl(t,'tspan',{dy:-size*0.36,'font-size':size*0.72});
  b.textContent=String(exp);
}
function drawRows(g,rows,sx,sy,r,fill,sw,name){
  rows.forEach(function(row){
    for(let i=1;i<row.length;i++){
      const c=svgEl(g,'circle',{cx:sx(row[i]).toFixed(1),cy:sy(row[0]).toFixed(1),r:r,fill:fill,stroke:'#222','stroke-width':sw});
      
      
    }
  });
}
function scatter(cfg){
  const g=svgEl(plots,'g',{});
  
  
  const sx=logAxis(cfg.x[0],cfg.x[1],cfg.x[2],cfg.x[3]);
  const sy=logAxis(cfg.y[0],cfg.y[1],cfg.y[2],-cfg.y[3]);
  const F=cfg.frame;
  svgEl(g,'rect',{x:F[0],y:F[1],width:F[2]-F[0],height:F[3]-F[1],fill:'#fff',stroke:cfg.frameColor,'stroke-width':cfg.frameWidth});
  logTicks.forEach(function(t){
    const gx=svgEl(g,'line',{x1:sx(t),x2:sx(t),y1:F[1],y2:F[3],stroke:'#dedede','stroke-width':cfg.gridWidth});
    
    
    const gy=svgEl(g,'line',{x1:F[0],x2:F[2],y1:sy(t),y2:sy(t),stroke:'#dedede','stroke-width':cfg.gridWidth});
    
    
    powerLabel(g,sx(t),F[3]+cfg.tickDy,t,cfg.tickSize,'middle','x-tick-label');
    powerLabel(g,F[0]+cfg.yTickDx,sy(t)+cfg.tickSize*0.28,t,cfg.tickSize,'end','y-tick-label');
  });
  const z=svgEl(g,'text',{x:F[0]+cfg.zeroDx,y:F[3]+cfg.tickDy,'font-size':cfg.tickSize,'text-anchor':'middle',fill:'#8c8c8c'});
  
  
  z.textContent='0';
  const axis=svgEl(g,'line',{x1:F[0],x2:F[2],y1:sy(-7),y2:sy(-7),stroke:'#8d8d90','stroke-width':cfg.axisWidth});
  
  
  const eqVals=equalityValues.slice();
  eqVals[eqVals.length-1]=cfg.eqEnd;
  const eqPts=eqVals.map(function(v){return sx(v).toFixed(1)+','+sy(v).toFixed(1);}).reverse().join(' ');
  const eq=svgEl(g,'polyline',{points:eqPts,fill:'none',stroke:'#8d8d90','stroke-width':cfg.lineWidth,'stroke-dasharray':'22 21'});
  
  
  const th=svgEl(g,'line',{x1:sx(cfg.thX[0]),y1:sy(cfg.thY[0]),x2:sx(cfg.thX[1]),y2:sy(cfg.thY[1]),stroke:'#e8856c','stroke-width':cfg.lineWidth,'stroke-dasharray':cfg.thDash});
  
  
  cfg.series.forEach(function(s){drawRows(g,s.rows,sx,sy,cfg.r,s.fill,cfg.pointStroke,s.name);});
}
scatter({name:'panel-a-control-1',x:[82,91.4,171,138],y:[696,685.8,601.6,136.5],frame:[81,61,721,697],frameColor:'#dcdfdc',frameWidth:3.5,gridWidth:2,axisWidth:3.5,lineWidth:3.5,tickDy:18,tickSize:15,yTickDx:-9,zeroDx:-15,r:9.2,pointStroke:1,eqEnd:-1.12,thX:thresholdValuesAX,thY:thresholdValuesAY,thDash:'11 19 14 22 22 400',
 series:[{rows:aNotSig,fill:GRAY,name:'point-not-significant'},{rows:aExcluded,fill:EXCL,name:'point-excluded'}]});
scatter({name:'panel-c-control-2',x:[79.6,95,201.5,153],y:[1502.4,1491.5,1400.3,157],frame:[78,868,719,1502],frameColor:'#dcdcdc',frameWidth:3.5,gridWidth:2,axisWidth:3.5,lineWidth:3.5,tickDy:19,tickSize:15,yTickDx:-8,zeroDx:-17,r:9.7,pointStroke:1,eqEnd:-1.67,thX:thresholdValuesCX,thY:thresholdValuesCY,thDash:'13 20 20 22 19 22 8 400',
 series:[{rows:cAgtB,fill:TEAL,name:'point-a-gt-b'},{rows:cBgtA,fill:ORANGE,name:'point-b-gt-a'},{rows:cNotSig,fill:GRAY,name:'point-not-significant'},{rows:cExcluded,fill:EXCL,name:'point-excluded'}]});
function bPanel(name,x,y,frame,gray,teal,orange,excl,eqEnd){
  scatter({name:name,x:x,y:y,frame:frame,frameColor:'#e2e2e2',frameWidth:1.5,gridWidth:1.2,axisWidth:1.4,lineWidth:1,tickDy:8.5,tickSize:7,yTickDx:-4,zeroDx:-8,r:4.6,pointStroke:0.9,eqEnd:eqEnd,thX:thresholdValuesBX,thY:thresholdValuesBY,thDash:'16 22 12 400',
   series:[{rows:gray,fill:GRAY,name:'point-not-significant'},{rows:orange,fill:ORANGE,name:'point-y-gt-x'},{rows:teal,fill:TEAL,name:'point-x-gt-y'},{rows:excl,fill:EXCL,name:'point-excluded'}]});
}
bPanel('panel-b-x1-y1',[873,879.4,923,62.6],[342.8,338,301.4,64.4],[873.5,51.8,1166,342.8],b1Gray,b1Teal,b1Orange,[[-7,-5.62],[-5.49,-7]],-1.15);
bPanel('panel-b-x2-y1',[1222.4,1227.9,1264.7,64.4],[339.7,334.5,298.2,64],[1222.4,48,1516,339.7],b2Gray,b2Teal,b2Orange,[[-7,-5.51],[-5.48,-7]],-1.15);
bPanel('panel-b-x1-y2',[872,878,921.8,61.8],[689.3,684,645.9,62.6],[872,398,1165.7,689.3],b3Gray,b3Teal,b3Orange,[[-7,-5.62],[-5.54,-7]],-1.08);
bPanel('panel-b-x2-y2',[1223,1227.9,1264.7,63.5],[689.3,684,645.9,62.6],[1223,398,1516,689.3],b4Gray,b4Teal,b4Orange,[[-7,-5.5],[-5.54,-7]],-1.06);

function stripPlot(cfg){
  const g=svgEl(plots,'g',{});
  
  
  const F=cfg.frame;
  const sx=function(v){return cfg.cat1+(v-1)*cfg.catStep;};
  const sy=function(v){return cfg.y0-v*cfg.yUnit;};
  cfg.minor.forEach(function(t){
    const l=svgEl(g,'line',{x1:F[0],x2:F[2],y1:sy(t),y2:sy(t),stroke:'#e6e6e6','stroke-width':1.3});
    
    
  });
  cfg.major.forEach(function(t){
    const l=svgEl(g,'line',{x1:F[0],x2:F[2],y1:sy(t),y2:sy(t),stroke:'#e0e0e0','stroke-width':1.8});
    
    
    const lab=svgEl(g,'text',{x:F[0]-9,y:sy(t)+5.5,'font-size':16,'text-anchor':'end',fill:'#4d4d4d'});
    
    
    lab.textContent=cfg.format(t);
  });
  cfg.categories.forEach(function(c,i){
    const x=sx(i+1);
    const l=svgEl(g,'line',{x1:x,x2:x,y1:F[1],y2:F[3]+5,stroke:'#e0e0e0','stroke-width':1.8});
    
    
    const t=svgEl(g,'text',{x:cfg.labelX[i],y:1512,'font-size':17.5,'text-anchor':'middle',fill:'#111'});
    
    
    t.textContent=c;
  });
  const fr=svgEl(g,'rect',{x:F[0],y:F[1],width:F[2]-F[0],height:F[3]-F[1],fill:'none',stroke:'#b9b9b9','stroke-width':4});
  
  
  cfg.values.forEach(function(v,i){
    const c=svgEl(g,'circle',{cx:sx(cfg.positions[i]),cy:sy(v),r:4.3,fill:'#a2a2a2',stroke:'#666','stroke-width':1});
    
    
  });
  const t=svgEl(g,'text',{transform:'translate('+cfg.titleX+','+cfg.titleY+') rotate(-90)','font-size':20.5,'text-anchor':'middle',fill:'#111',textLength:cfg.titleLen});
  
  
  t.textContent=cfg.title;
}
stripPlot({name:'panel-d-clone-counts',frame:[926,873,1104,1479],cat1:974,catStep:80,y0:1453,yUnit:0.198,minor:dMinorTicks,major:dMajorTicks,categories:dCategories,positions:dPositions,values:dValues,labelX:[972,1058],format:function(t){return String(t);},title:'Number of expanded or contracted clones',titleX:865,titleY:1192,titleLen:410});
stripPlot({name:'panel-e-pearson-correlation',frame:[1292,871,1475,1477],cat1:1343,catStep:83,y0:1451,yUnit:552,minor:eMinorTicks,major:eMajorTicks,categories:eCategories,positions:ePositions,values:eValues,labelX:[1318,1419],format:function(t){return t.toFixed(2);},title:'Pearson correleation between clonotype counts',titleX:1226,titleY:1176,titleLen:463});
</script>
</body></html>
